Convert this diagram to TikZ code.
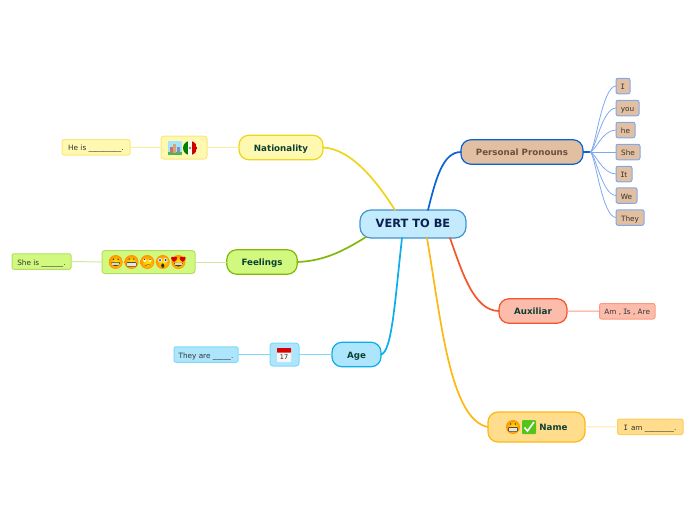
\documentclass[tikz,border=0pt]{standalone}
\usepackage{fontspec}
\setmainfont{DejaVu Sans}
\newfontfamily\capI{DejaVu Sans Mono}
\newcommand{\Ii}{{\capI\hspace{-.07em}I\hspace{-.07em}}}
\definecolor{rootF}{HTML}{C4EBFD}\definecolor{rootD}{HTML}{3F93CF}
\definecolor{ppF}{HTML}{E2BFA0}\definecolor{ppD}{HTML}{0B62D6}\definecolor{ppL}{HTML}{7FA9EE}\definecolor{ppT}{HTML}{6A5040}
\definecolor{auF}{HTML}{FBBCAC}\definecolor{auD}{HTML}{F4552A}\definecolor{auL}{HTML}{FB9A80}
\definecolor{naF}{HTML}{FFDD8C}\definecolor{naD}{HTML}{FDB813}\definecolor{naL}{HTML}{FEE9A8}
\definecolor{agF}{HTML}{ADE6FC}\definecolor{agD}{HTML}{0BAEEA}\definecolor{agL}{HTML}{7FD8F8}
\definecolor{feF}{HTML}{D2F97F}\definecolor{feD}{HTML}{83B70A}\definecolor{feL}{HTML}{CFE8A0}\definecolor{feS}{HTML}{B4DD60}
\definecolor{ntF}{HTML}{FFF8B0}\definecolor{ntD}{HTML}{EFD51A}\definecolor{ntL}{HTML}{F8EEA0}\definecolor{ntS}{HTML}{F8E878}
\definecolor{mainT}{HTML}{0C4034}\definecolor{rootT}{HTML}{0A2050}\definecolor{smallT}{HTML}{333333}
\definecolor{chk}{HTML}{55C41A}
\tikzset{
 x=1pt,y=-1pt,
 box/.style n args={2}{draw=#2,fill=#1,inner sep=0pt,outer sep=0pt,align=center},
 rootnode/.style={box={rootF}{rootD},line width=1.2pt,rounded corners=11pt,minimum width=106pt,minimum height=28pt,font=\bfseries\fontsize{11.4}{12}\selectfont,text=rootT,text height=.73em,text depth=0pt},
 mainnode/.style={line width=1.2pt,rounded corners=10pt,minimum height=24.5pt,font=\bfseries\fontsize{8.7}{10}\selectfont,text=mainT,inner sep=0pt,outer sep=0pt,text height=.73em,text depth=0pt},
 leaf/.style={line width=1pt,rounded corners=2pt,minimum height=15.5pt,font=\fontsize{7.3}{8}\selectfont,text=smallT,inner sep=0pt,outer sep=0pt,text height=.73em,text depth=0pt},
 iconbox/.style={line width=1pt,rounded corners=3pt,minimum height=23pt,inner sep=0pt,outer sep=0pt},
 mainline/.style={line width=1.7pt,line cap=round},
 subline/.style={line width=1pt},
 fanline/.style={line width=.8pt,draw=ppL},
 face/.style={draw=none,inner color=yellow!85!orange,outer color=orange!85!yellow},
}
% emoji drawn as shapes
\newcommand{\grinface}[2]{%
 \shade[face] (#1,#2) circle (7);
 \fill[black!80] (#1-2.4,#2-2.8) circle (.8) (#1+2.4,#2-2.8) circle (.8);
 \fill[black!75] (#1-4.5,#2+.4) -- (#1+4.5,#2+.4) .. controls (#1+4.2,#2+5.5) and (#1-4.2,#2+5.5) .. (#1-4.5,#2+.4) -- cycle;
 \fill[white!85!black] (#1-3.7,#2+.8) rectangle (#1+3.7,#2+2.8);
}
\newcommand{\teethface}[2]{%
 \shade[face] (#1,#2) circle (7);
 \fill[black!80] (#1-2.4,#2-3) circle (.8) (#1+2.4,#2-3) circle (.8);
 \fill[black!70,rounded corners=1pt] (#1-5,#2) rectangle (#1+5,#2+4.5);
 \fill[white!90!black] (#1-4.2,#2+.7) rectangle (#1+4.2,#2+3.8);
}
\newcommand{\rollface}[2]{%
 \shade[face] (#1,#2) circle (7);
 \fill[white] (#1-2.7,#2-1.8) circle (1.7) (#1+2.7,#2-1.8) circle (1.7);
 \fill[black!80] (#1-2.7,#2-2.6) circle (.7) (#1+2.7,#2-2.6) circle (.7);
 \draw[brown!70!black,line width=.5pt] (#1-2.5,#2+3.8) .. controls (#1,#2+2.2) and (#1+1.5,#2+2.2) .. (#1+3.2,#2+3);
}
\newcommand{\wowface}[2]{%
 \shade[face] (#1,#2) circle (7);
 \fill[white!90!black] (#1-2.8,#2-2) circle (2.1) (#1+2.8,#2-2) circle (2.1);
 \fill[black!80] (#1-2.8,#2-2) circle (1) (#1+2.8,#2-2) circle (1);
 \fill[black!80] (#1,#2+3.6) ellipse (1.6 and 2.2);
}
\newcommand{\loveface}[2]{%
 \shade[face] (#1,#2) circle (7);
 \fill[black!75] (#1-4.5,#2+.8) -- (#1+4.5,#2+.8) .. controls (#1+4.2,#2+5.8) and (#1-4.2,#2+5.8) .. (#1-4.5,#2+.8) -- cycle;
 \fill[white!85!black] (#1-3.7,#2+1.2) rectangle (#1+3.7,#2+3);
 \foreach \s in {-1,1}{
  \fill[red!85!black] (#1+\s*4.3,#2) .. controls (#1+\s*4.3-5,#2-3) and (#1+\s*4.3-3,#2-6.8) .. (#1+\s*4.3,#2-4.8) .. controls (#1+\s*4.3+3,#2-6.8) and (#1+\s*4.3+5,#2-3) .. (#1+\s*4.3,#2) -- cycle;
 }
}
\begin{document}
\begin{tikzpicture}
\useasboundingbox (0,0) rectangle (696,520);
% nodes
\node[rootnode] (root) at (413,224) {VERT TO BE};
\node[mainnode,draw=ppD,fill=ppF,minimum width=122pt,text=ppT] (pp) at (522,152) {Personal Pronouns};
\node[mainnode,draw=auD,fill=auF,minimum width=68pt] (aux) at (533,311) {Auxiliar};
\node[mainnode,draw=naD,fill=naF,minimum width=97pt,minimum height=30pt] (name) at (536.5,427) {\hspace*{34pt}Name};
\node[mainnode,draw=agD,fill=agF,minimum width=49pt] (age) at (356.5,354.5) {Age};
\node[mainnode,draw=feD,fill=feF,minimum width=70.5pt] (feel) at (262,262) {Feelings};
\node[mainnode,draw=ntD,fill=ntF,minimum width=84pt] (nat) at (281,147.5) {Nationality};
% pronoun leaves
\foreach \nm/\cx/\cy/\w/\t in {pi/623/86/14/\Ii,pyou/627.5/108/23/you,phe/625.5/130/19/he,pshe/628/152/24/She,pit/624/174/16/\Ii t,pwe/626.5/195.5/21/We,pthey/630/217.5/28/They}{
 \node[leaf,draw=ppL,fill=ppF,minimum width=\w pt] (\nm) at (\cx,\cy) {\t};
}
% other leaves
\node[leaf,draw=auL,fill=auF,minimum width=55.5pt] (auxl) at (627.25,311.25) {Am , \Ii s , Are};
\node[leaf,draw=naD!70,fill=naF,minimum width=65.5pt] (namel) at (650.25,426.75) {\Ii\, am \_\_\_\_\_\_\_\_.};
\node[iconbox,draw=agL,fill=agF,minimum width=29pt] (agei) at (284.5,354.5) {};
\node[leaf,draw=agL,fill=agF,minimum width=64pt] (agel) at (206,354.5) {They are \_\_\_\_\_.};
\node[iconbox,draw=feS,fill=feF,minimum width=93pt] (feeli) at (148.5,262) {};
\node[leaf,draw=feS,fill=feF,minimum width=59pt] (feell) at (41.5,261.5) {She is \_\_\_\_\_\_.};
\node[iconbox,draw=ntS,fill=ntF,minimum width=46pt] (nati) at (184,147.5) {};
\node[leaf,draw=ntS,fill=ntF,minimum width=68pt] (natl) at (96,147.25) {He is \_\_\_\_\_\_\_\_\_.};
% named connector ends on the central node
\coordinate (rN) at (395,210);
\coordinate (rP) at (428,210);
\coordinate (rF) at (366,237);
\coordinate (rG) at (402,238);
\coordinate (rM) at (427,238);
\coordinate (rA) at (450,238);
\coordinate (hub) at (590,152);
% main connectors
\draw[mainline,draw=ntD] (nat.east) .. controls (352,149) and (377,182) .. (rN);
\draw[mainline,draw=ppD] (pp.west) .. controls (443,152) and (436,178) .. (rP);
\draw[mainline,draw=feD] (feel.east) .. controls (325,261) and (345,250) .. (rF);
\draw[mainline,draw=agD] (age.east) .. controls (392,352) and (395,300) .. (rG);
\draw[mainline,draw=naD] (name.west) .. controls (450,420) and (441,320) .. (rM);
\draw[mainline,draw=auD] (aux.west) .. controls (474,311) and (462,272) .. (rA);
% fan
\draw[line width=1.8pt,draw=ppD] (pp.east) -- (hub);
\foreach \nm in {pi,pyou,phe,pit,pwe,pthey}{
 \draw[fanline] (hub) .. controls (595,152) and (602,152 |- \nm.west) .. (\nm.west);
}
\draw[fanline,line width=1pt] (hub) -- (pshe.west);
% leaf connectors
\draw[subline,draw=auL] (aux.east) -- (auxl.west);
\draw[subline,draw=naL] (name.east) -- (namel.west);
\draw[subline,draw=agL] (age.west) -- (agei.east);
\draw[subline,draw=agL] (agei.west) -- (agel.east);
\draw[subline,draw=feL] (feel.west) -- (feeli.east);
\draw[subline,draw=feL] (feeli.west) -- (feell.east);
\draw[subline,draw=ntL] (nat.west) -- (nati.east);
\draw[subline,draw=ntL] (nati.west) -- (natl.east);
% feelings emoji
\grinface{115.7}{262}
\teethface{131.5}{262}
\rollface{147.3}{262}
\wowface{162.8}{262}
\loveface{178.4}{262}
% name emoji
\teethface{513}{427}
\fill[chk,rounded corners=1pt] (522,420) rectangle (536,434);
\draw[white,line width=1.6pt] (524.5,427.5) -- (527.5,431) -- (534,422);
% city picture
\fill[cyan!35!white] (168,141) rectangle (182,155);
\fill[green!45!gray] (168,152) rectangle (182,155);
\fill[red!35!gray!80] (169.5,147) rectangle (172.5,153);
\fill[orange!50!gray!70] (173,144) rectangle (176,153);
\fill[blue!30!gray!70] (176.5,146.5) rectangle (180,153);
% flag of Mexico
\begin{scope}
\clip (190,148) circle (7);
\fill[green!50!black] (183,141) rectangle (187.7,155);
\fill[white!95!gray] (187.7,141) rectangle (192.4,155);
\fill[red!80!black] (192.4,141) rectangle (197,155);
\fill[brown!70!gray] (190,148) circle (1.4);
\end{scope}
% calendar
\fill[white!93!gray,rounded corners=1pt] (277,348) rectangle (291,362);
\fill[red!85!black,rounded corners=.5pt] (277,348) rectangle (291,352.5);
\node[inner sep=0pt,font=\fontsize{6.5}{7}\selectfont,text=black!85] (cal) at (284,357.3) {17};
\end{tikzpicture}
\end{document}
